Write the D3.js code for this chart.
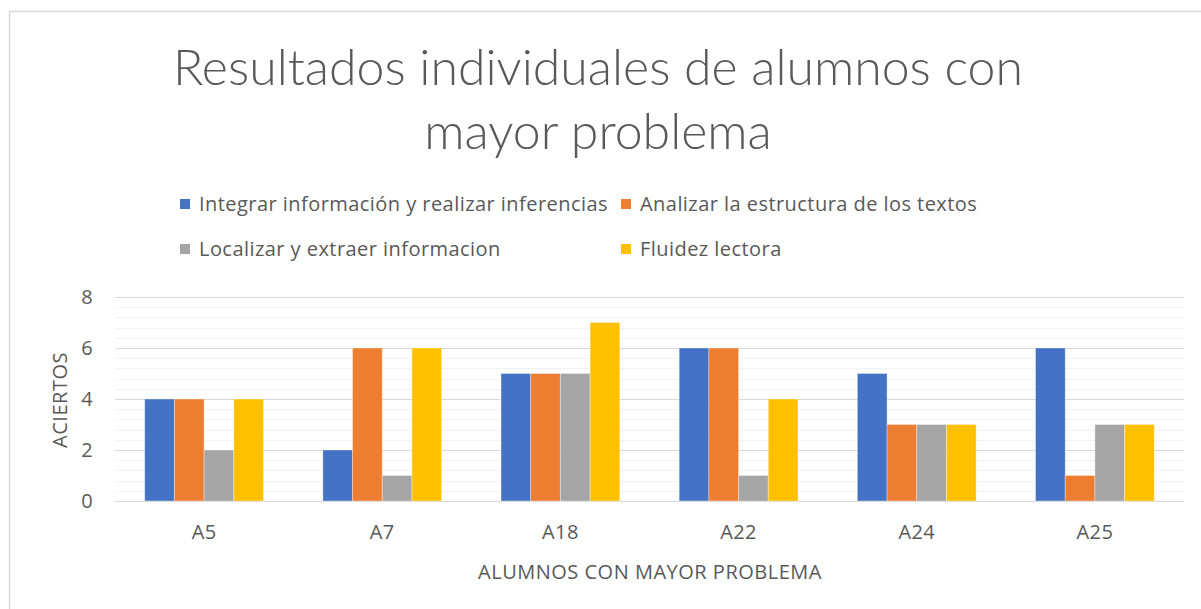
<!doctype html>
<html lang="es">
<head>
<meta charset="utf-8">
<title>Resultados individuales de alumnos con mayor problema</title>
<script src="https://cdn.jsdelivr.net/npm/d3@7"></script>
<style>
	body { margin: 0; background: #fff; }
	text { font-family: "Open Sans", Lato, sans-serif; fill: #595959; }
	.tick text { font-size: 20px; letter-spacing: 0.4px; }
	.grid line { shape-rendering: crispEdges; }
</style>
</head>
<body>
<div id="viz"></div>
<script>
// DATA
var alumnos = ["A5", "A7", "A18", "A22", "A24", "A25"];
var series = [
	"Integrar información y realizar inferencias",
	"Analizar la estructura de los textos",
	"Localizar y extraer informacion",
	"Fluidez lectora"
];
var integrar  = [4, 2, 5, 6, 5, 6];
var analizar  = [4, 6, 5, 6, 3, 1];
var localizar = [2, 1, 5, 1, 3, 3];
var fluidez   = [4, 6, 7, 4, 3, 3];
var yTicks = [0, 2, 4, 6, 8];
var colores = ["#4472C4", "#ED7D31", "#A5A5A5", "#FFC000"];

(function(d3) {
	var w = 1201, h = 609;
	var plot = {left: 115, right: 1184, top: 297, bottom: 501};

	var valores = [integrar, analizar, localizar, fluidez];

	var svg = d3.select("#viz").append("svg")
		.attr("width", w)
		.attr("height", h);

	// chart border
	svg.append("rect")
		.attr("x", 9.5).attr("y", 11.5)
		.attr("width", w).attr("height", h)
		.style("fill", "none")
		.style("stroke", "#D9D9D9")
		.style("stroke-width", 1.5);

	// SCALES
	var x = d3.scaleBand().domain(alumnos).range([plot.left, plot.right]);
	var xs = d3.scaleBand().domain(series).range([0, x.bandwidth()])
		.paddingInner(0).paddingOuter(1);
	var y = d3.scaleLinear().domain([0, 8]).range([plot.bottom, plot.top]);

	// minor grid, every 0.4
	svg.append("g").attr("class", "grid")
		.selectAll("line")
		.data(d3.range(1, 20).filter(function(i) { return i % 5 !== 0; }).map(function(i) { return i * 0.4; }))
		.enter().append("line")
		.attr("x1", plot.left).attr("x2", plot.right)
		.attr("y1", function(d) { return Math.round(y(d)) + 0.5; })
		.attr("y2", function(d) { return Math.round(y(d)) + 0.5; })
		.style("stroke", "#F2F2F2").style("stroke-width", 1.5);

	// major grid
	svg.append("g").attr("class", "grid")
		.selectAll("line")
		.data(yTicks)
		.enter().append("line")
		.attr("x1", plot.left).attr("x2", plot.right)
		.attr("y1", function(d) { return Math.round(y(d)) + 0.5; })
		.attr("y2", function(d) { return Math.round(y(d)) + 0.5; })
		.style("stroke", "#D9D9D9").style("stroke-width", 1.5);

	// BARS
	var grupos = svg.append("g").selectAll("g")
		.data(alumnos)
		.enter().append("g")
		.attr("transform", function(d) { return "translate(" + x(d) + ",0)"; });

	grupos.selectAll("rect")
		.data(function(d, i) {
			return series.map(function(s, j) { return {serie: s, valor: valores[j][i], color: colores[j]}; });
		})
		.enter().append("rect")
		.attr("x", function(d) { return xs(d.serie); })
		.attr("width", xs.bandwidth())
		.attr("y", function(d) { return y(d.valor); })
		.attr("height", function(d) { return y(0) - y(d.valor); })
		.style("fill", function(d) { return d.color; })
		.style("stroke", "#fff")
		.style("stroke-opacity", 0.35)
		.style("stroke-width", 1);

	// AXES
	var yAxis = d3.axisLeft(y).tickValues(yTicks).tickSize(0).tickPadding(22);
	svg.append("g")
		.attr("transform", "translate(" + plot.left + ",0)")
		.call(yAxis)
		.call(function(g) { g.select(".domain").remove(); })
		.selectAll("text").style("font-family", null).style("fill", "#595959");

	var xAxis = d3.axisBottom(x).tickSize(0).tickPadding(24);
	svg.append("g")
		.attr("transform", "translate(0," + plot.bottom + ")")
		.call(xAxis)
		.call(function(g) { g.select(".domain").remove(); })
		.selectAll("text").style("font-family", null).style("fill", "#595959");

	// axis titles
	svg.append("text")
		.attr("transform", "translate(67,400) rotate(-90)")
		.attr("text-anchor", "middle")
		.style("font-size", "20px")
		.style("letter-spacing", "0.5px")
		.text("ACIERTOS");

	svg.append("text")
		.attr("x", 650).attr("y", 579)
		.attr("text-anchor", "middle")
		.style("font-size", "20px")
		.style("letter-spacing", "0.5px")
		.text("ALUMNOS CON MAYOR PROBLEMA");

	// TITLE
	var titulo = svg.append("text")
		.attr("text-anchor", "middle")
		.style("font-family", "Lato, sans-serif")
		.style("font-size", "50px")
		.style("font-weight", 300);
	titulo.append("tspan").attr("x", 598).attr("y", 85).text("Resultados individuales de alumnos con");
	titulo.append("tspan").attr("x", 598).attr("y", 149).text("mayor problema");

	// LEGEND
	var leyendaPos = [[180, 204], [621, 204], [180, 249], [621, 249]];
	var leyenda = svg.append("g").selectAll("g")
		.data(series)
		.enter().append("g")
		.attr("transform", function(d, i) { return "translate(" + leyendaPos[i][0] + "," + leyendaPos[i][1] + ")"; });

	leyenda.append("rect")
		.attr("x", 0).attr("y", -5)
		.attr("width", 10).attr("height", 10)
		.style("fill", function(d, i) { return colores[i]; });

	leyenda.append("text")
		.attr("x", 19).attr("dy", "0.35em")
		.style("font-size", "20px")
		.style("letter-spacing", "0.45px")
		.text(function(d) { return d; });

})(d3);
</script>
</body>
</html>
